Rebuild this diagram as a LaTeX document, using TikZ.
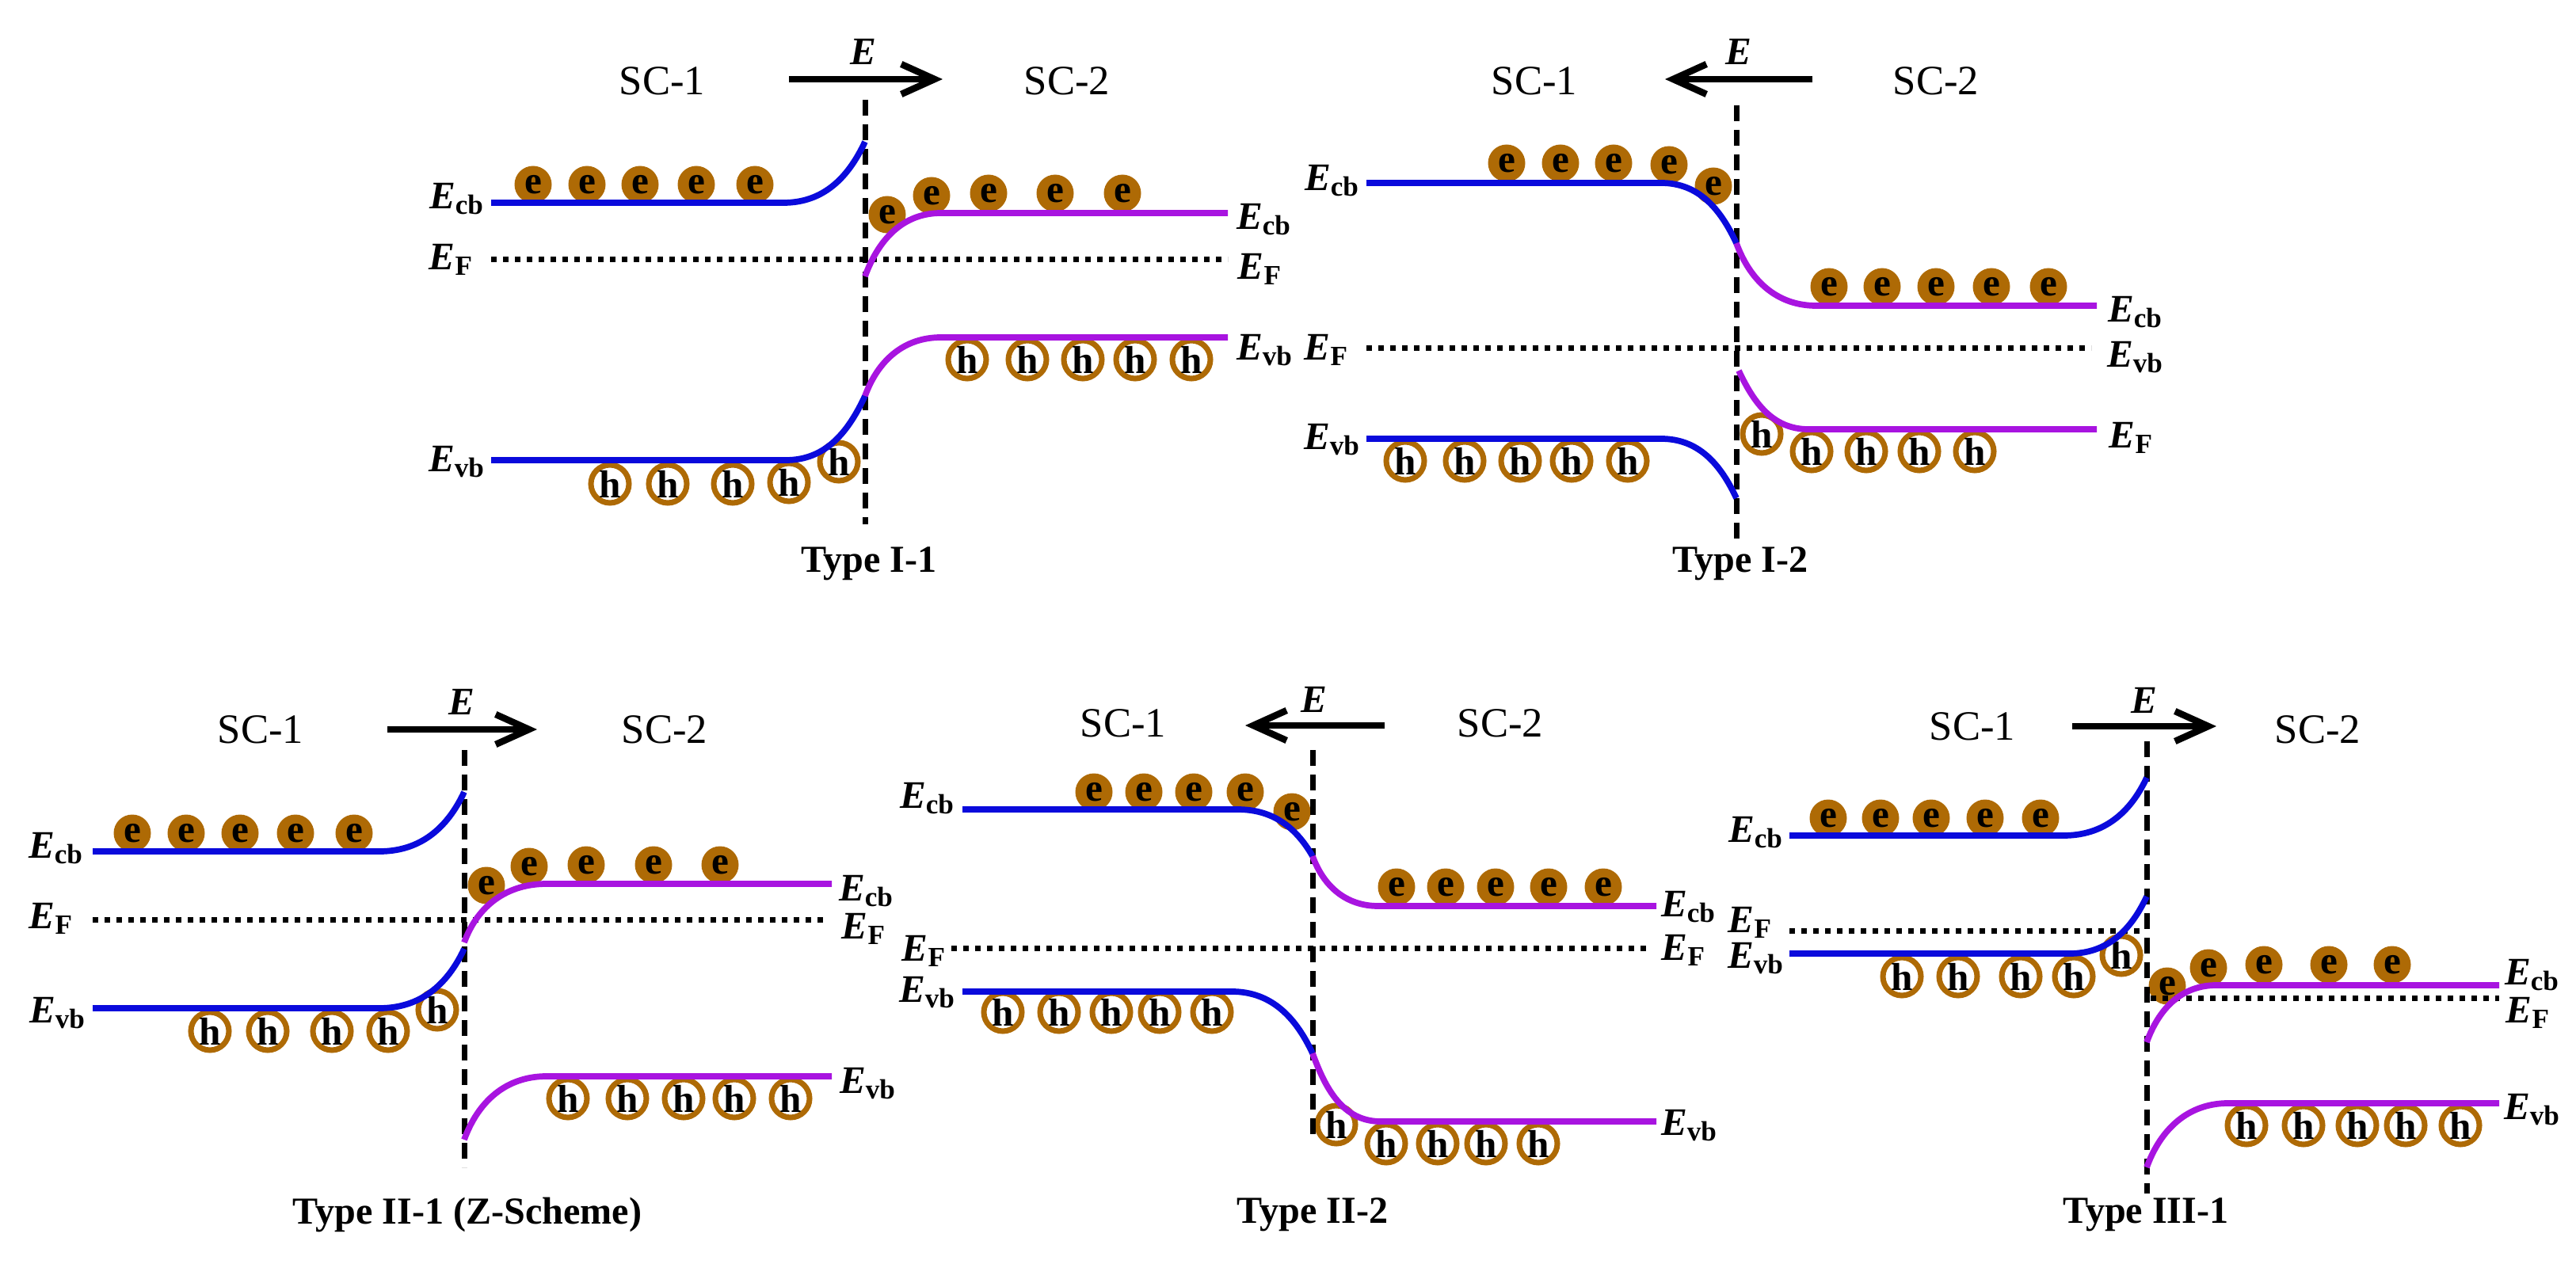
\documentclass[tikz,border=0pt]{standalone}
\usepackage{fontspec}
\setmainfont{Liberation Serif}
\usetikzlibrary{arrows.meta}
\definecolor{cbrown}{HTML}{AE6A05}
\definecolor{sc1blue}{HTML}{0A0ADC}
\definecolor{sc2purple}{HTML}{A814E0}
\newcommand{\Eband}[1]{\textbf{\textit{E}}\raisebox{-.3ex}{\fontsize{10}{12}\selectfont\textbf{#1}}}
\tikzset{
  elec/.style={circle, fill=cbrown, minimum size=4.7mm, inner sep=0, font=\fontsize{14}{14}\selectfont\bfseries},
  hole/.style={circle, draw=cbrown, line width=2pt, fill=white, minimum size=4.8mm, inner sep=0, font=\fontsize{14}{14}\selectfont\bfseries},
  blueband/.style={sc1blue, line width=2.2pt},
  purpleband/.style={sc2purple, line width=2.2pt},
  fermi/.style={line width=.7mm, dash pattern=on .7mm off .8mm},
  junction/.style={line width=.7mm, dash pattern=on 2mm off 1.1mm},
  field/.style={line width=2.4pt, -{Straight Barb[length=4.2mm, width=3.8mm]}},
  lab/.style={inner sep=0, font=\fontsize{15}{17}\selectfont},
  eband/.style={inner sep=0, font=\fontsize{14}{16}\selectfont},
  title/.style={inner sep=0, font=\fontsize{13.7}{16}\selectfont\bfseries}
}
\begin{document}
\begin{tikzpicture}
\useasboundingbox (0, 0) rectangle (32.52, 15.95);

\path (6.20, 13.39) coordinate (a_cbl);
\path (9.89, 13.39) coordinate (a_cbf);
\path (10.92, 14.16) coordinate (a_cbe);
\path (10.92, 12.46) coordinate (a_cbs);
\path (11.88, 13.26) coordinate (a_cbg);
\path (15.50, 13.26) coordinate (a_cbr);
\path (6.20, 12.67) coordinate (a_fl);
\path (15.50, 12.67) coordinate (a_fr);
\path (6.20, 10.14) coordinate (a_vbl);
\path (9.92, 10.14) coordinate (a_vbf);
\path (10.92, 10.95) coordinate (a_vbm);
\path (11.88, 11.69) coordinate (a_vbg);
\path (15.50, 11.69) coordinate (a_vbr);
\path (10.92, 14.69) coordinate (a_top);
\path (10.92, 9.33) coordinate (a_bot);
\path (9.96, 14.95) coordinate (a_from);
\path (11.90, 14.95) coordinate (a_to);

\path (6.73, 13.62) node[elec] (a_e1) {e};
\path (7.41, 13.62) node[elec] (a_e2) {e};
\path (8.08, 13.62) node[elec] (a_e3) {e};
\path (8.79, 13.62) node[elec] (a_e4) {e};
\path (9.53, 13.62) node[elec] (a_e5) {e};
\path (11.20, 13.24) node[elec] (a_e6) {e};
\path (11.76, 13.48) node[elec] (a_e7) {e};
\path (12.48, 13.51) node[elec] (a_e8) {e};
\path (13.32, 13.51) node[elec] (a_e9) {e};
\path (14.17, 13.51) node[elec] (a_e10) {e};
\path (7.70, 9.84) node[hole] (a_h1) {h};
\path (8.43, 9.84) node[hole] (a_h2) {h};
\path (9.25, 9.84) node[hole] (a_h3) {h};
\path (9.96, 9.86) node[hole] (a_h4) {h};
\path (10.59, 10.12) node[hole] (a_h5) {h};
\path (12.21, 11.41) node[hole] (a_h6) {h};
\path (12.97, 11.41) node[hole] (a_h7) {h};
\path (13.67, 11.41) node[hole] (a_h8) {h};
\path (14.33, 11.41) node[hole] (a_h9) {h};
\path (15.04, 11.41) node[hole] (a_h10) {h};

\draw[junction] (a_top) -- (a_bot);
\draw[fermi] (a_fl) -- (a_fr);
\draw[blueband] (a_cbl) -- (a_cbf) to[out=0, in=245] (a_cbe);
\draw[purpleband] (a_cbs) to[out=70, in=180] (a_cbg) -- (a_cbr);
\draw[blueband] (a_vbl) -- (a_vbf) to[out=0, in=245] (a_vbm);
\draw[purpleband] (a_vbm) to[out=70, in=180] (a_vbg) -- (a_vbr);
\draw[field] (a_from) -- (a_to);

\path (8.36, 14.93) node[lab] (a_sc1) {SC-1};
\path (13.47, 14.93) node[lab] (a_sc2) {SC-2};
\path (10.90, 15.30) node[eband] (a_field) {\textbf{\textit{E}}};
\path (5.76, 13.44) node[eband] (a_lcb) {\Eband{cb}};
\path (5.69, 12.67) node[eband] (a_lf) {\Eband{F}};
\path (5.76, 10.12) node[eband] (a_lvb) {\Eband{vb}};
\path (15.95, 13.18) node[eband] (a_rcb) {\Eband{cb}};
\path (15.90, 12.55) node[eband] (a_rf) {\Eband{F}};
\path (15.96, 11.53) node[eband] (a_rvb) {\Eband{vb}};
\path (10.97, 8.83) node[title] (a_title) {Type I-1};

\path (17.25, 13.64) coordinate (b_cbl);
\path (20.97, 13.64) coordinate (b_cbf);
\path (21.92, 12.88) coordinate (b_cbm);
\path (22.93, 12.09) coordinate (b_cbg);
\path (26.47, 12.09) coordinate (b_cbr);
\path (17.25, 11.55) coordinate (b_fl);
\path (26.40, 11.55) coordinate (b_fr);
\path (17.25, 10.41) coordinate (b_vbl);
\path (20.97, 10.41) coordinate (b_vbf);
\path (21.92, 9.66) coordinate (b_vbe);
\path (21.95, 11.27) coordinate (b_vbs);
\path (22.83, 10.53) coordinate (b_vbg);
\path (26.47, 10.53) coordinate (b_vbr);
\path (21.92, 14.62) coordinate (b_top);
\path (21.92, 9.13) coordinate (b_bot);
\path (22.88, 14.95) coordinate (b_from);
\path (21.02, 14.95) coordinate (b_to);

\path (19.02, 13.89) node[elec] (b_e1) {e};
\path (19.70, 13.89) node[elec] (b_e2) {e};
\path (20.37, 13.89) node[elec] (b_e3) {e};
\path (21.07, 13.87) node[elec] (b_e4) {e};
\path (21.63, 13.60) node[elec] (b_e5) {e};
\path (23.09, 12.33) node[elec] (b_e6) {e};
\path (23.76, 12.33) node[elec] (b_e7) {e};
\path (24.44, 12.33) node[elec] (b_e8) {e};
\path (25.14, 12.33) node[elec] (b_e9) {e};
\path (25.86, 12.33) node[elec] (b_e10) {e};
\path (17.74, 10.13) node[hole] (b_h1) {h};
\path (18.49, 10.13) node[hole] (b_h2) {h};
\path (19.19, 10.13) node[hole] (b_h3) {h};
\path (19.84, 10.13) node[hole] (b_h4) {h};
\path (20.55, 10.13) node[hole] (b_h5) {h};
\path (22.24, 10.47) node[hole] (b_h6) {h};
\path (22.87, 10.25) node[hole] (b_h7) {h};
\path (23.56, 10.25) node[hole] (b_h8) {h};
\path (24.23, 10.25) node[hole] (b_h9) {h};
\path (24.93, 10.25) node[hole] (b_h10) {h};

\draw[junction] (b_top) -- (b_bot);
\draw[fermi] (b_fl) -- (b_fr);
\draw[blueband] (b_cbl) -- (b_cbf) to[out=0, in=115] (b_cbm);
\draw[purpleband] (b_cbm) to[out=-70, in=180] (b_cbg) -- (b_cbr);
\draw[blueband] (b_vbl) -- (b_vbf) to[out=0, in=115] (b_vbe);
\draw[purpleband] (b_vbs) to[out=-65, in=180] (b_vbg) -- (b_vbr);
\draw[field] (b_from) -- (b_to);

\path (19.37, 14.93) node[lab] (b_sc1) {SC-1};
\path (24.44, 14.93) node[lab] (b_sc2) {SC-2};
\path (21.95, 15.30) node[eband] (b_field) {\textbf{\textit{E}}};
\path (16.81, 13.67) node[eband] (b_lcb) {\Eband{cb}};
\path (16.74, 11.53) node[eband] (b_lf) {\Eband{F}};
\path (16.81, 10.40) node[eband] (b_lvb) {\Eband{vb}};
\path (26.95, 12.01) node[eband] (b_rcb) {\Eband{cb}};
\path (26.95, 11.44) node[eband] (b_rvb) {\Eband{vb}};
\path (26.90, 10.42) node[eband] (b_rf) {\Eband{F}};
\path (21.97, 8.83) node[title] (b_title) {Type I-2};

\path (1.17, 5.20) coordinate (c_cbl);
\path (4.79, 5.20) coordinate (c_cbf);
\path (5.86, 5.95) coordinate (c_cbe);
\path (5.86, 4.05) coordinate (c_cbs);
\path (6.90, 4.79) coordinate (c_cbg);
\path (10.50, 4.79) coordinate (c_cbr);
\path (1.17, 4.34) coordinate (c_fl);
\path (10.45, 4.34) coordinate (c_fr);
\path (1.17, 3.22) coordinate (c_vbl);
\path (4.79, 3.22) coordinate (c_vbf);
\path (5.86, 3.97) coordinate (c_vbe);
\path (5.86, 1.56) coordinate (c_vbs);
\path (6.90, 2.36) coordinate (c_vbg);
\path (10.50, 2.36) coordinate (c_vbr);
\path (5.86, 6.48) coordinate (c_top);
\path (5.86, 1.21) coordinate (c_bot);
\path (4.89, 6.74) coordinate (c_from);
\path (6.78, 6.74) coordinate (c_to);

\path (1.67, 5.43) node[elec] (c_e1) {e};
\path (2.35, 5.43) node[elec] (c_e2) {e};
\path (3.03, 5.43) node[elec] (c_e3) {e};
\path (3.73, 5.43) node[elec] (c_e4) {e};
\path (4.47, 5.43) node[elec] (c_e5) {e};
\path (6.14, 4.77) node[elec] (c_e6) {e};
\path (6.68, 5.01) node[elec] (c_e7) {e};
\path (7.40, 5.03) node[elec] (c_e8) {e};
\path (8.25, 5.03) node[elec] (c_e9) {e};
\path (9.09, 5.03) node[elec] (c_e10) {e};
\path (2.65, 2.93) node[hole] (c_h1) {h};
\path (3.38, 2.93) node[hole] (c_h2) {h};
\path (4.19, 2.93) node[hole] (c_h3) {h};
\path (4.90, 2.93) node[hole] (c_h4) {h};
\path (5.52, 3.20) node[hole] (c_h5) {h};
\path (7.17, 2.08) node[hole] (c_h6) {h};
\path (7.92, 2.08) node[hole] (c_h7) {h};
\path (8.63, 2.08) node[hole] (c_h8) {h};
\path (9.27, 2.08) node[hole] (c_h9) {h};
\path (9.98, 2.08) node[hole] (c_h10) {h};

\draw[junction] (c_top) -- (c_bot);
\draw[fermi] (c_fl) -- (c_fr);
\draw[blueband] (c_cbl) -- (c_cbf) to[out=0, in=245] (c_cbe);
\draw[purpleband] (c_cbs) to[out=70, in=180] (c_cbg) -- (c_cbr);
\draw[blueband] (c_vbl) -- (c_vbf) to[out=0, in=245] (c_vbe);
\draw[purpleband] (c_vbs) to[out=70, in=180] (c_vbg) -- (c_vbr);
\draw[field] (c_from) -- (c_to);

\path (3.29, 6.74) node[lab] (c_sc1) {SC-1};
\path (8.39, 6.74) node[lab] (c_sc2) {SC-2};
\path (5.83, 7.09) node[eband] (c_field) {\textbf{\textit{E}}};
\path (0.70, 5.24) node[eband] (c_lcb) {\Eband{cb}};
\path (0.64, 4.35) node[eband] (c_lf) {\Eband{F}};
\path (0.72, 3.16) node[eband] (c_lvb) {\Eband{vb}};
\path (10.93, 4.70) node[eband] (c_rcb) {\Eband{cb}};
\path (10.90, 4.22) node[eband] (c_rf) {\Eband{F}};
\path (10.95, 2.27) node[eband] (c_rvb) {\Eband{vb}};
\path (5.90, 0.61) node[title] (c_title) {Type II-1 (Z-Scheme)};

\path (12.15, 5.73) coordinate (d_cbl);
\path (15.62, 5.73) coordinate (d_cbf);
\path (16.57, 5.14) coordinate (d_cbm);
\path (17.40, 4.51) coordinate (d_cbg);
\path (20.91, 4.51) coordinate (d_cbr);
\path (12.01, 3.98) coordinate (d_fl);
\path (20.78, 3.98) coordinate (d_fr);
\path (12.15, 3.43) coordinate (d_vbl);
\path (15.55, 3.43) coordinate (d_vbf);
\path (16.57, 2.65) coordinate (d_vbm);
\path (17.43, 1.79) coordinate (d_vbg);
\path (20.91, 1.79) coordinate (d_vbr);
\path (16.57, 6.48) coordinate (d_top);
\path (16.57, 1.54) coordinate (d_bot);
\path (17.48, 6.79) coordinate (d_from);
\path (15.72, 6.79) coordinate (d_to);

\path (13.81, 5.95) node[elec] (d_e1) {e};
\path (14.44, 5.95) node[elec] (d_e2) {e};
\path (15.07, 5.95) node[elec] (d_e3) {e};
\path (15.72, 5.95) node[elec] (d_e4) {e};
\path (16.31, 5.70) node[elec] (d_e5) {e};
\path (17.63, 4.75) node[elec] (d_e6) {e};
\path (18.25, 4.75) node[elec] (d_e7) {e};
\path (18.88, 4.75) node[elec] (d_e8) {e};
\path (19.55, 4.75) node[elec] (d_e9) {e};
\path (20.24, 4.75) node[elec] (d_e10) {e};
\path (12.66, 3.17) node[hole] (d_h1) {h};
\path (13.37, 3.17) node[hole] (d_h2) {h};
\path (14.03, 3.17) node[hole] (d_h3) {h};
\path (14.64, 3.17) node[hole] (d_h4) {h};
\path (15.30, 3.17) node[hole] (d_h5) {h};
\path (16.87, 1.75) node[hole] (d_h6) {h};
\path (17.50, 1.51) node[hole] (d_h7) {h};
\path (18.15, 1.51) node[hole] (d_h8) {h};
\path (18.76, 1.51) node[hole] (d_h9) {h};
\path (19.42, 1.51) node[hole] (d_h10) {h};

\draw[junction] (d_top) -- (d_bot);
\draw[fermi] (d_fl) -- (d_fr);
\draw[blueband] (d_cbl) -- (d_cbf) to[out=0, in=120] (d_cbm);
\draw[purpleband] (d_cbm) to[out=-70, in=180] (d_cbg) -- (d_cbr);
\draw[blueband] (d_vbl) -- (d_vbf) to[out=0, in=115] (d_vbm);
\draw[purpleband] (d_vbm) to[out=-70, in=180] (d_vbg) -- (d_vbr);
\draw[field] (d_from) -- (d_to);

\path (14.18, 6.82) node[lab] (d_sc1) {SC-1};
\path (18.94, 6.82) node[lab] (d_sc2) {SC-2};
\path (16.59, 7.12) node[eband] (d_field) {\textbf{\textit{E}}};
\path (11.70, 5.87) node[eband] (d_lcb) {\Eband{cb}};
\path (11.66, 3.94) node[eband] (d_lf) {\Eband{F}};
\path (11.70, 3.42) node[eband] (d_lvb) {\Eband{vb}};
\path (21.31, 4.50) node[eband] (d_rcb) {\Eband{cb}};
\path (21.25, 3.95) node[eband] (d_rf) {\Eband{F}};
\path (21.32, 1.74) node[eband] (d_rvb) {\Eband{vb}};
\path (16.57, 0.61) node[title] (d_title) {Type II-2};

\path (22.59, 5.40) coordinate (e_cbl);
\path (26.05, 5.40) coordinate (e_cbf);
\path (27.10, 6.13) coordinate (e_cbe);
\path (22.59, 4.20) coordinate (e_fl);
\path (27.05, 4.20) coordinate (e_fe);
\path (22.59, 3.91) coordinate (e_vbl);
\path (26.13, 3.91) coordinate (e_vbf);
\path (27.10, 4.63) coordinate (e_vbe);
\path (27.10, 2.79) coordinate (e_cbs);
\path (27.98, 3.51) coordinate (e_cbg);
\path (31.55, 3.51) coordinate (e_cbr);
\path (27.15, 3.35) coordinate (e_gl);
\path (31.55, 3.35) coordinate (e_gr);
\path (27.10, 1.21) coordinate (e_vbs);
\path (28.13, 2.02) coordinate (e_vbg);
\path (31.55, 2.02) coordinate (e_vbr);
\path (27.10, 6.59) coordinate (e_top);
\path (27.10, 0.88) coordinate (e_bot);
\path (26.16, 6.78) coordinate (e_from);
\path (27.98, 6.78) coordinate (e_to);

\path (23.08, 5.62) node[elec] (e_e1) {e};
\path (23.74, 5.62) node[elec] (e_e2) {e};
\path (24.38, 5.62) node[elec] (e_e3) {e};
\path (25.06, 5.62) node[elec] (e_e4) {e};
\path (25.76, 5.62) node[elec] (e_e5) {e};
\path (27.36, 3.50) node[elec] (e_e6) {e};
\path (27.88, 3.73) node[elec] (e_e7) {e};
\path (28.58, 3.77) node[elec] (e_e8) {e};
\path (29.40, 3.77) node[elec] (e_e9) {e};
\path (30.20, 3.77) node[elec] (e_e10) {e};
\path (24.01, 3.62) node[hole] (e_h1) {h};
\path (24.72, 3.62) node[hole] (e_h2) {h};
\path (25.51, 3.62) node[hole] (e_h3) {h};
\path (26.18, 3.62) node[hole] (e_h4) {h};
\path (26.78, 3.89) node[hole] (e_h5) {h};
\path (28.36, 1.74) node[hole] (e_h6) {h};
\path (29.08, 1.74) node[hole] (e_h7) {h};
\path (29.76, 1.74) node[hole] (e_h8) {h};
\path (30.37, 1.74) node[hole] (e_h9) {h};
\path (31.06, 1.74) node[hole] (e_h10) {h};

\draw[junction] (e_top) -- (e_bot);
\draw[fermi] (e_fl) -- (e_fe);
\draw[fermi] (e_gl) -- (e_gr);
\draw[blueband] (e_cbl) -- (e_cbf) to[out=0, in=245] (e_cbe);
\draw[blueband] (e_vbl) -- (e_vbf) to[out=0, in=245] (e_vbe);
\draw[purpleband] (e_cbs) to[out=70, in=180] (e_cbg) -- (e_cbr);
\draw[purpleband] (e_vbs) to[out=70, in=180] (e_vbg) -- (e_vbr);
\draw[field] (e_from) -- (e_to);

\path (24.90, 6.78) node[lab] (e_sc1) {SC-1};
\path (29.26, 6.74) node[lab] (e_sc2) {SC-2};
\path (27.07, 7.11) node[eband] (e_field) {\textbf{\textit{E}}};
\path (22.16, 5.44) node[eband] (e_lcb) {\Eband{cb}};
\path (22.09, 4.30) node[eband] (e_lf) {\Eband{F}};
\path (22.16, 3.85) node[eband] (e_lvb) {\Eband{vb}};
\path (31.96, 3.64) node[eband] (e_rcb) {\Eband{cb}};
\path (31.91, 3.16) node[eband] (e_rf) {\Eband{F}};
\path (31.96, 1.94) node[eband] (e_rvb) {\Eband{vb}};
\path (27.09, 0.61) node[title] (e_title) {Type III-1};
\end{tikzpicture}
\end{document}
